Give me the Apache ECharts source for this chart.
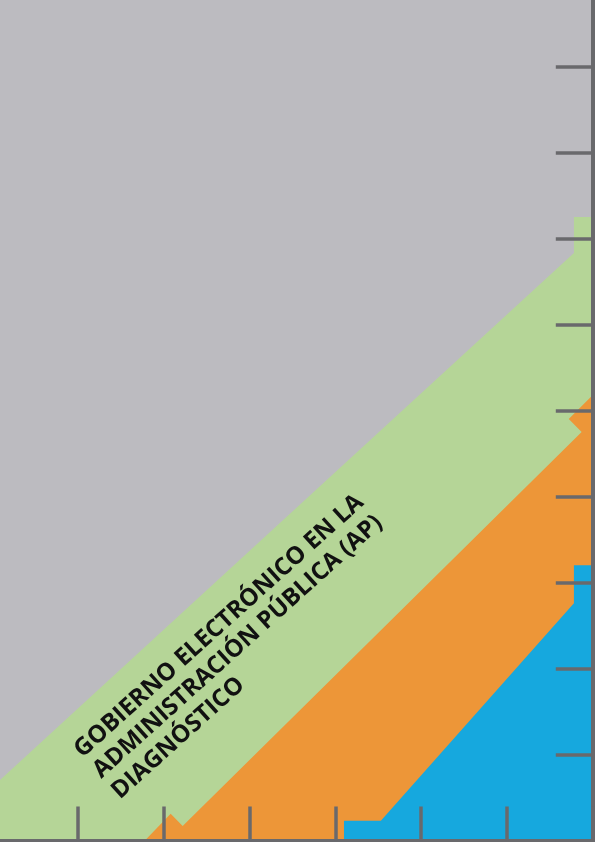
<!DOCTYPE html>
<html>
<head>
<meta charset="utf-8">
<script src="https://cdn.jsdelivr.net/npm/echarts@6/dist/echarts.min.js"></script>
<style>
  html, body { margin: 0; padding: 0; background: #bcbbc0; }
  #cover { width: 595px; height: 842px; }
</style>
</head>
<body>
<div id="cover"></div>
<script>
// band outlines in axis units (x: 0..7, y: 0..10)
const greenBand = [[0, 0.62], [6.78, 6.83], [6.78, 7.25], [7, 7.25], [7, 0], [0, 0]];
const orangeBand = [[1.78, 0], [2.08, 0.31], [2.22, 0.17], [6.87, 4.75], [6.72, 4.9], [7, 5.18], [7, 0]];
const blueBand = [[4.1, 0], [4.1, 0.23], [4.53, 0.23], [6.78, 2.76], [6.78, 3.2], [7, 3.2], [7, 0]];

const xTicks = [0, 7, 1];   // min, max, interval
const yTicks = [0, 10, 1];

const titleLines = ['GOBIERNO ELECTRÓNICO EN LA', 'ADMINISTRACIÓN PÚBLICA (AP)', 'DIAGNÓSTICO'];

const axisGrey = '#69696c';
const angle = 42 * Math.PI / 180;

function band(name, pts, color) {
    return {
        type: 'custom',
        name: name,
        coordinateSystem: 'cartesian2d',
        silent: true,
        data: pts,
        encode: { x: 0, y: 1 },
        renderItem: function (params, api) {
            if (params.dataIndex !== 0) return;
            return {
                type: 'polygon',
                shape: { points: pts.map(function (p) { return api.coord(p); }) },
                style: { fill: color },
            };
        },
    };
}

// title: three left-aligned lines along the slope
const lineGap = 28;
const start = [78, 753];
const title = titleLines.map(function (t, i) {
    return {
        type: 'text',
        x: start[0] + i * lineGap * Math.sin(angle),
        y: start[1] + i * lineGap * Math.cos(angle),
        rotation: angle,
        z: 20,
        style: {
            text: t,
            font: 'bold 24.2px "Open Sans"',
            fill: '#111111',
            align: 'left',
            verticalAlign: 'middle',
            textAlign: 'left',
            textVerticalAlign: 'middle',
        },
    };
});

const chart = echarts.init(document.getElementById('cover'));
chart.setOption({
    animation: false,
    backgroundColor: '#bcbbc0',
    grid: { left: -7.8, right: 2.2, top: -19.5, bottom: 1.5, outerBoundsMode: 'none', containLabel: false },
    xAxis: {
        type: 'value',
        min: xTicks[0],
        max: xTicks[1],
        interval: xTicks[2],
        z: 10,
        axisLine: { show: true, onZero: false, lineStyle: { color: axisGrey, width: 4, cap: 'square' } },
        axisTick: { show: true, inside: true, length: 34, lineStyle: { color: axisGrey, width: 3.5 } },
        axisLabel: { show: false },
        splitLine: { show: false },
    },
    yAxis: {
        type: 'value',
        position: 'right',
        min: yTicks[0],
        max: yTicks[1],
        interval: yTicks[2],
        z: 10,
        axisLine: { show: true, onZero: false, lineStyle: { color: axisGrey, width: 4, cap: 'square' } },
        axisTick: { show: true, inside: true, length: 37, lineStyle: { color: axisGrey, width: 3.5 } },
        axisLabel: { show: false },
        splitLine: { show: false },
    },
    graphic: title,
    series: [
        band('verde', greenBand, '#b5d597'),
        band('naranja', orangeBand, '#ed9638'),
        band('azul', blueBand, '#16a8de'),
    ],
});
</script>
</body>
</html>
